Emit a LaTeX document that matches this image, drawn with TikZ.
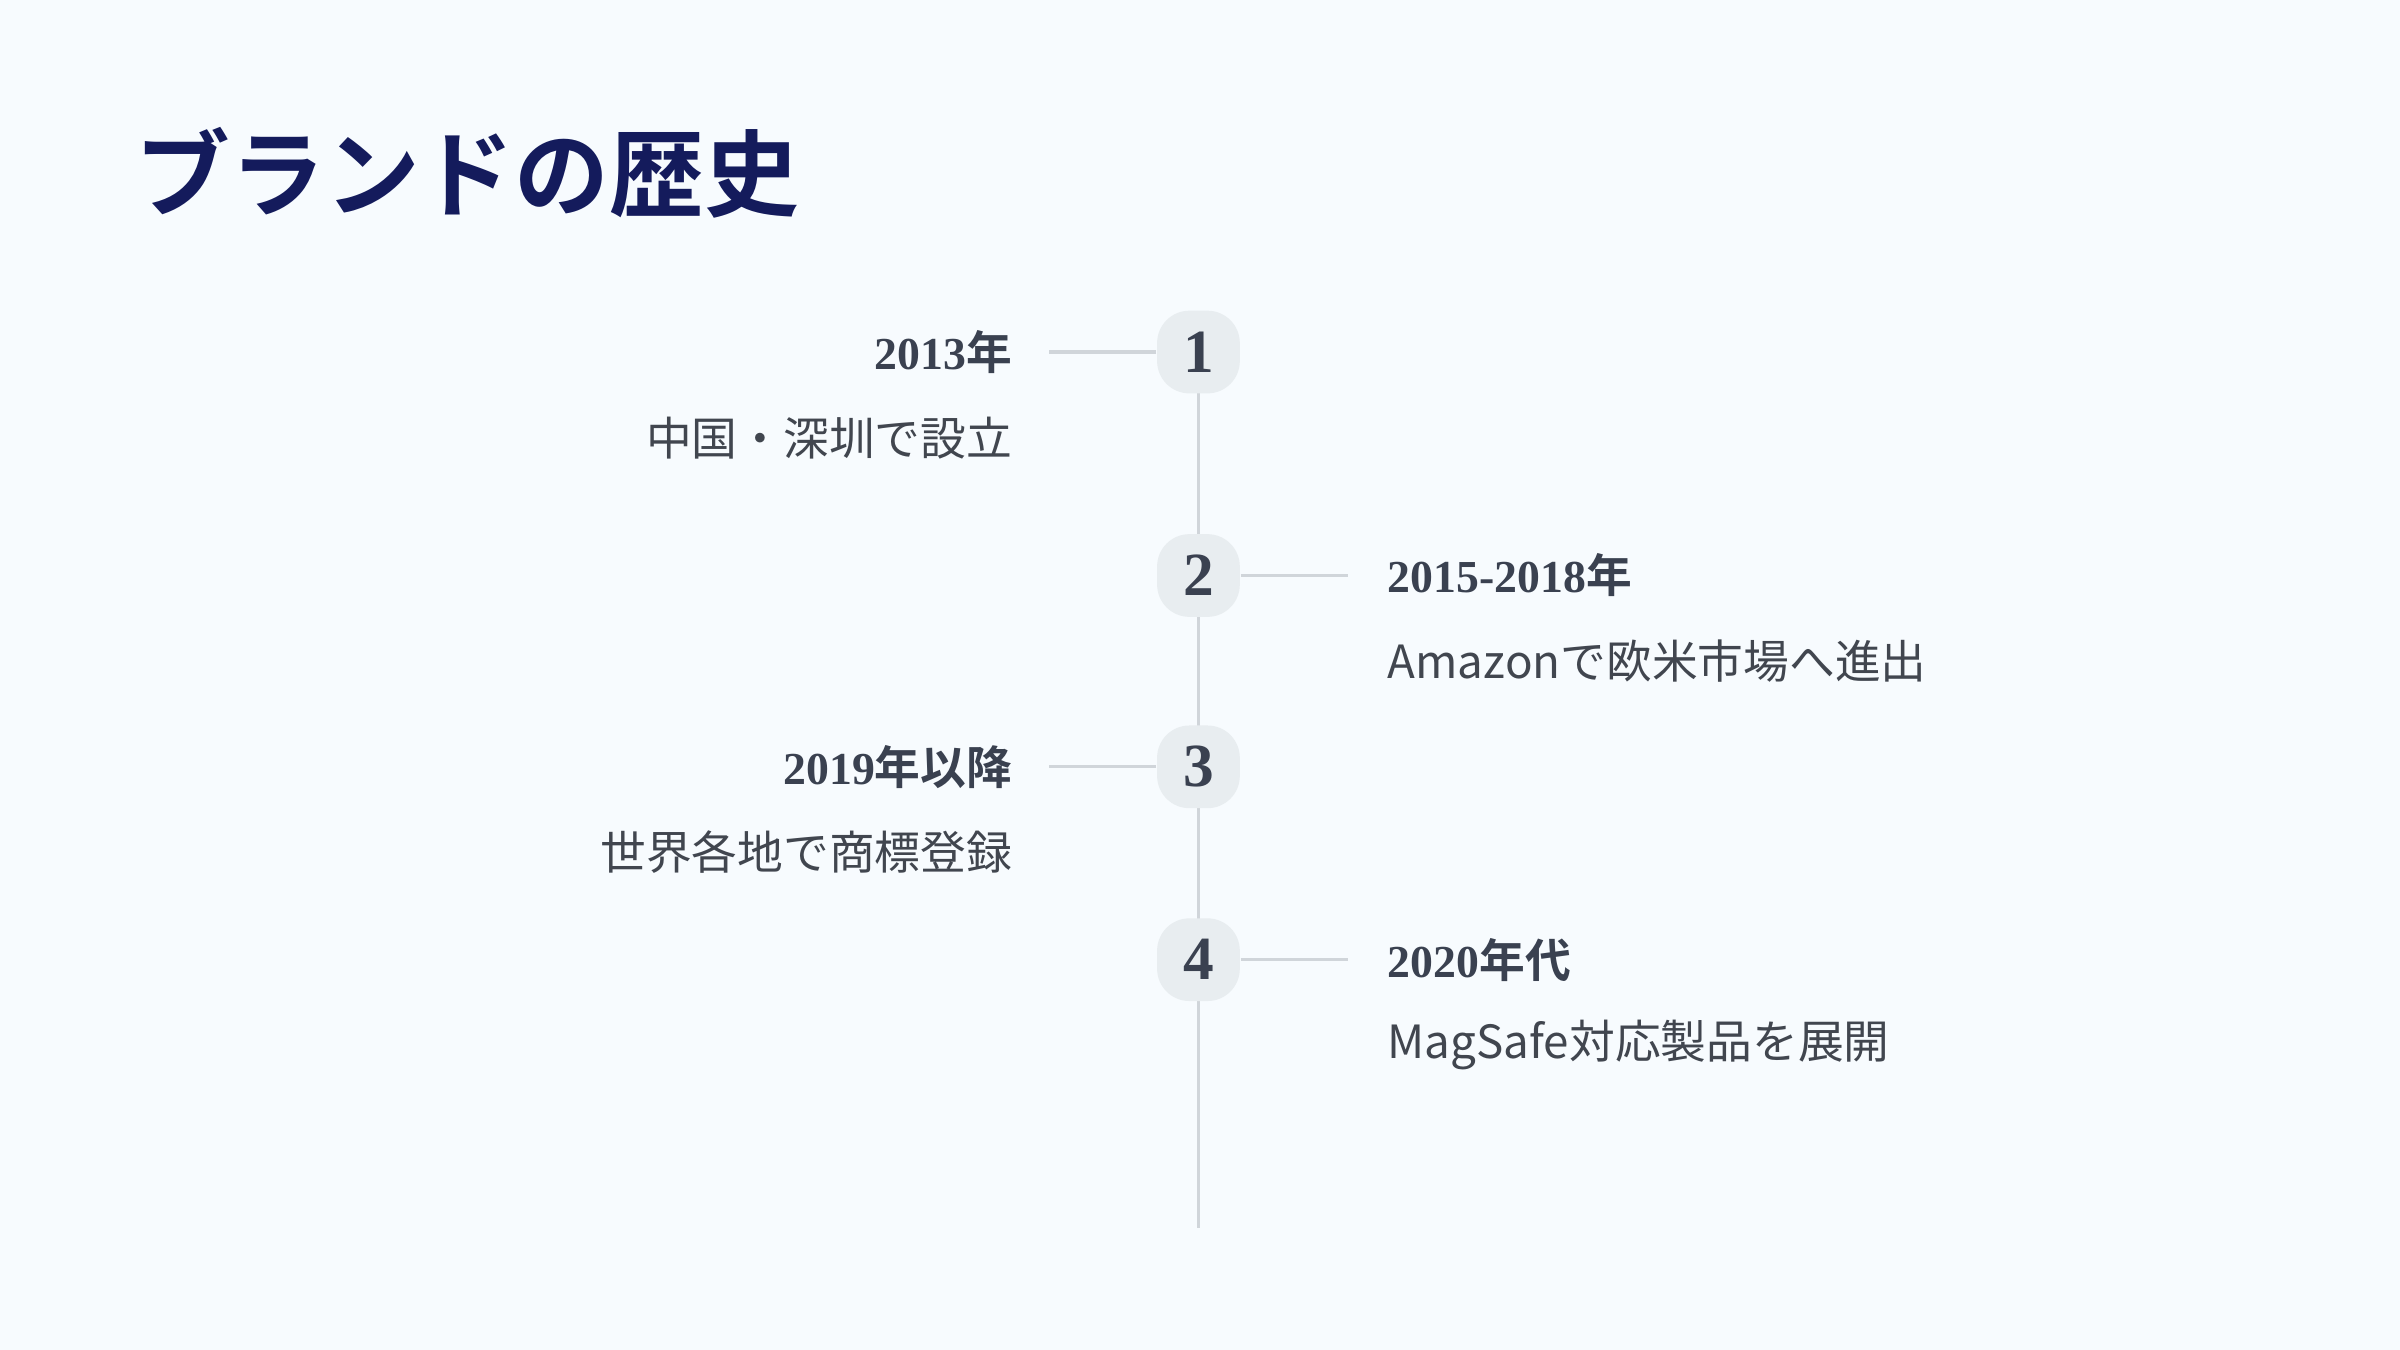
\documentclass[tikz,border=0pt]{standalone}
\usepackage{fontspec}
\setmainfont{Liberation Serif}
\newfontfamily\cjk{Noto Sans CJK JP}
\newfontfamily\cjkbold{Noto Sans CJK JP}[BoldFont={* Bold}]
\usetikzlibrary{positioning}
\definecolor{bgcol}{HTML}{F7FBFE}
\definecolor{navy}{HTML}{141B5C}
\definecolor{ink}{HTML}{3A4150}
\definecolor{txt}{HTML}{41464F}
\definecolor{rail}{HTML}{D0D5DA}
\definecolor{boxfill}{HTML}{E8EDF0}
\tikzset{
  numbox/.style={fill=boxfill, rounded corners=6pt, minimum size=0.54cm, inner sep=0pt,
    font=\fontsize{11.4}{12}\selectfont\bfseries, text=ink},
  yearlabel/.style={inner sep=0pt, font=\fontsize{8.5}{10}\selectfont\bfseries, text=ink},
  desclabel/.style={inner sep=0pt, font=\cjk\fontsize{8.5}{10}\selectfont, text=txt},
  link/.style={rail, line width=0.6pt}
}
\newcommand{\nen}[1]{{\cjkbold\bfseries #1}}
\begin{document}
\begin{tikzpicture}[x=0.01cm,y=-0.01cm]
  \fill[bgcol] (0,0) rectangle (1568,882);
  \useasboundingbox (0,0) rectangle (1568,882);

  % title
  \node[anchor=base west, inner sep=0pt, text=navy, font=\cjkbold\fontsize{17.6}{20}\selectfont\bfseries]
    (title) at (88,137) {ブランドの歴史};

  % rail
  \coordinate (railend) at (783,802);
  \draw[link] (783,230) -- (railend);

  % steps
  \node[numbox] (n1) at (783,230) {1};
  \node[numbox] (n2) at (783,376) {2};
  \node[numbox] (n3) at (783,501) {3};
  \node[numbox] (n4) at (783,627) {4};

  % left entries
  \node[yearlabel, anchor=east] (y1) at (662,230) {2013\nen{年}};
  \node[desclabel, anchor=east] (d1) at (662,286) {中国・深圳で設立};
  \node[yearlabel, anchor=east] (y3) at (662,501) {2019\nen{年以降}};
  \node[desclabel, anchor=east] (d3) at (662,557) {世界各地で商標登録};

  % right entries
  \node[yearlabel, anchor=west] (y2) at (906,376) {2015-2018\nen{年}};
  \node[desclabel, anchor=west] (d2) at (906,432) {Amazonで欧米市場へ進出};
  \node[yearlabel, anchor=west] (y4) at (906,627) {2020\nen{年代}};
  \node[desclabel, anchor=west] (d4) at (906,683) {MagSafe対応製品を展開};

  % connectors
  \draw[link] (n1.west) -- ++(-70,0);
  \draw[link] (n3.west) -- ++(-70,0);
  \draw[link] (n2.east) -- ++(70,0);
  \draw[link] (n4.east) -- ++(70,0);
\end{tikzpicture}
\end{document}
